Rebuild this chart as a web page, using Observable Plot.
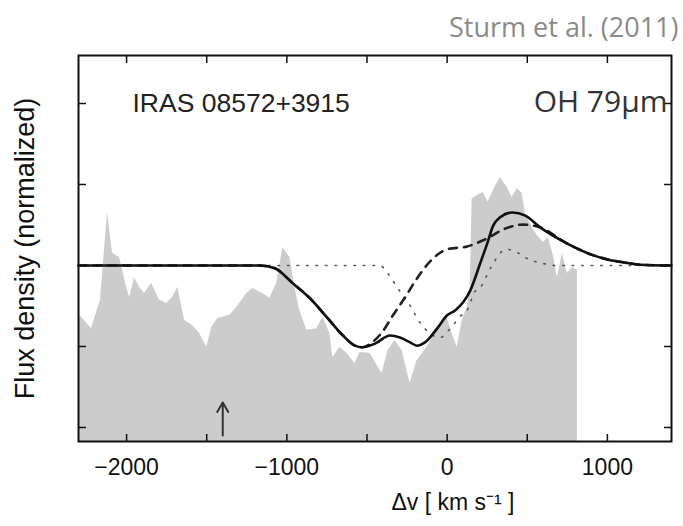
<!DOCTYPE html>
<html><head><meta charset="utf-8">
<script src="https://cdn.jsdelivr.net/npm/d3@7"></script>
<script src="https://cdn.jsdelivr.net/npm/@observablehq/plot@0.6"></script>
<style>body{margin:0;background:#fff;}</style>
</head><body><div id="chart"></div>
<script>
// Observed (normalized) spectrum, grey filled
const obsV = [-2300,-2219,-2163,-2119,-2088,-2044,-2000,-1981,-1950,-1919,-1888,-1844,-1794,-1750,-1713,-1681,-1638,-1588,-1544,-1500,-1469,-1431,-1356,-1313,-1250,-1213,-1150,-1106,-1063,-1025,-981,-950,-919,-875,-813,-775,-731,-713,-669,-625,-575,-544,-481,-406,-369,-325,-281,-231,-188,-125,-63,0,31,63,94,125,144,156,188,225,256,288,331,375,406,438,469,488,531,563,600,631,663,688,719,750,781,813];
const obsF = [0.881,0.844,0.914,1.131,1.030,1.020,0.946,0.921,0.970,0.946,0.931,0.956,0.914,0.906,0.921,0.946,0.864,0.852,0.832,0.798,0.847,0.869,0.877,0.896,0.931,0.943,0.931,0.919,0.956,1.044,1.020,0.946,0.889,0.840,0.844,0.872,0.832,0.773,0.798,0.783,0.758,0.785,0.783,0.733,0.790,0.815,0.790,0.709,0.765,0.798,0.840,0.872,0.832,0.798,0.864,0.896,0.938,1.165,1.173,1.180,1.156,1.185,1.217,1.193,1.168,1.190,1.178,1.128,1.094,1.074,1.057,1.069,1.025,0.970,1.030,0.980,0.995,0.988];

// Total model (solid)
const totV = [-2300,-1169,-1075,-963,-856,-750,-650,-575,-531,-450,-356,-294,-231,-188,-138,-63,0,50,100,144,206,250,288,331,406,488,581,750,913,1000,1113,1206,1400];
const totF = [1.000,1.000,0.993,0.956,0.919,0.872,0.827,0.802,0.798,0.807,0.827,0.822,0.810,0.802,0.810,0.844,0.877,0.889,0.909,0.938,1.005,1.054,1.099,1.119,1.131,1.123,1.094,1.054,1.025,1.015,1.007,1.002,1.000];

// Outflow component (dashed)
const dashV = [-2300,-1169,-1075,-963,-856,-750,-650,-575,-531,-469,-406,-338,-263,-188,-106,0,125,250,350,475,581,750,913,1000,1113,1206,1400];
const dashF = [1.000,1.000,0.993,0.956,0.919,0.872,0.827,0.802,0.798,0.810,0.835,0.877,0.921,0.968,1.010,1.040,1.047,1.067,1.089,1.101,1.094,1.054,1.025,1.015,1.007,1.002,1.000];

// Systemic component (dotted)
const dotV = [-2300,-419,-375,-306,-231,-169,-106,-44,19,81,131,163,225,256,288,319,375,438,500,600,675,1400];
const dotF = [1.000,1.000,0.983,0.943,0.901,0.859,0.832,0.822,0.844,0.874,0.894,0.928,0.956,0.983,1.005,1.025,1.040,1.032,1.017,1.005,1.000,1.000];

const xTicks = [-2000,-1500,-1000,-500,0,500,1000];
const xLabelTicks = [-2000,-1000,0,1000];
const yTicks = [0.6,0.8,1.0,1.2,1.4];
const arrowV = [-1400];
const arrowF = [0.580, 0.662];

const xDomain = [-2300, 1400];
const yDomain = [0.5654, 1.5185];

const obs = obsV.map((v,i)=>({v, f: obsF[i]}));
const tot = totV.map((v,i)=>({v, f: totF[i]}));
const dash = dashV.map((v,i)=>({v, f: dashF[i]}));
const dot = dotV.map((v,i)=>({v, f: dotF[i]}));
const arrows = arrowV.map(v=>({v, f1: arrowF[0], f2: arrowF[1]}));

const helv = "'Liberation Sans', Arial, Helvetica, sans-serif";
const cal = "'Open Sans', 'Noto Sans', sans-serif";
const fmt = d => String(d).replace("-", "\u2212");

const chart = Plot.plot({
  width: 683, height: 526,
  marginTop: 55, marginRight: 12, marginBottom: 85, marginLeft: 78,
  style: {fontFamily: helv, background: "#fff", overflow: "visible"},
  x: {domain: xDomain},
  y: {domain: yDomain},
  marks: [
    Plot.areaY(obs, {x: "v", y1: () => yDomain[0], y2: "f", fill: "#cccccc", curve: "linear"}),
    Plot.line(dot, {x: "v", y: "f", stroke: "#555", strokeWidth: 1.6, strokeDasharray: "1.5,8", curve: "monotone-x"}),
    Plot.line(dash, {x: "v", y: "f", stroke: "#222", strokeWidth: 2.6, strokeDasharray: "8,7", curve: "monotone-x"}),
    Plot.line(tot, {x: "v", y: "f", stroke: "#111", strokeWidth: 2.6, curve: "monotone-x"}),
    Plot.arrow(arrows, {x1: "v", x2: "v", y1: "f1", y2: "f2", stroke: "#333", strokeWidth: 2, headLength: 13}),
    Plot.frame({stroke: "#111", strokeWidth: 2}),
    Plot.axisX({anchor: "bottom", ticks: xTicks, tickSize: -7, tickFormat: () => "", stroke: "#111", strokeWidth: 1.5, label: null}),
    Plot.axisX({anchor: "top", ticks: xTicks, tickSize: -7, tickFormat: () => "", stroke: "#111", strokeWidth: 1.5, label: null}),
    Plot.axisY({anchor: "left", ticks: yTicks, tickSize: -8, tickFormat: () => "", stroke: "#111", strokeWidth: 1.5, label: null}),
    Plot.axisY({anchor: "right", ticks: yTicks, tickSize: -8, tickFormat: () => "", stroke: "#111", strokeWidth: 1.5, label: null}),
    Plot.axisX({anchor: "bottom", ticks: xLabelTicks, tickSize: 0, tickPadding: 17, tickFormat: fmt, fontSize: 23, fill: "#111", label: null}),
    Plot.text(["Δv [ km s⁻¹ ]"], {frameAnchor: "bottom", dx: 78, dy: 68, fontSize: 23, fill: "#111"}),
    Plot.text(["Flux density (normalized)"], {frameAnchor: "left", textAnchor: "middle", dx: -53, rotate: -90, fontSize: 27, fill: "#111"}),
    Plot.text(["IRAS 08572+3915"], {frameAnchor: "top-left", lineAnchor: "middle", dx: 54, dy: 48, textAnchor: "start", fontSize: 26.5, fill: "#222"}),
    Plot.text(["OH 79μm"], {frameAnchor: "top-right", lineAnchor: "middle", dx: -4, dy: 47, textAnchor: "end", fontSize: 30, fill: "#333", fontFamily: cal}),
    Plot.text(["Sturm et al. (2011)"], {frameAnchor: "top-right", lineAnchor: "middle", dx: 7, dy: -27, textAnchor: "end", fontSize: 27, fill: "#8a8a8a", fontFamily: cal})
  ]
});
document.getElementById("chart").appendChild(chart);
</script>
</body></html>
